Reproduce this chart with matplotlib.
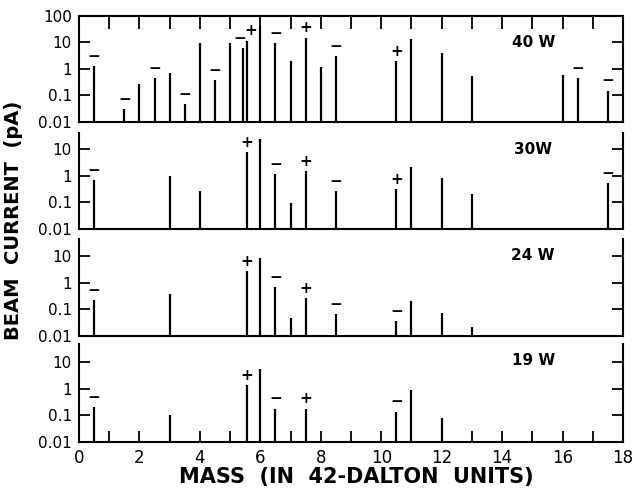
import matplotlib
matplotlib.use("Agg")
import matplotlib.pyplot as plt
import numpy as np

# mass positions (42-dalton units), beam currents (pA) and ion sign labels
mass_40w = [0.5, 1.5, 2.0, 2.5, 3.0, 3.5, 4.0, 4.5, 5.0, 5.43, 5.57, 6.0, 6.5,
            7.0, 7.5, 8.0, 8.5, 10.5, 11.0, 12.0, 13.0, 16.0, 16.5, 17.5]
curr_40w = [1.3, 0.031, 0.27, 0.46, 0.7, 0.048, 9.5, 0.38, 9.0, 6.2, 11.4, 42,
            9.5, 2.0, 15, 1.2, 3.1, 2.0, 13.5, 4.0, 0.55, 0.6, 0.46, 0.15]
sign_40w = ['-', '-', '', '-', '', '-', '', '-', '', '-', '+', '', '-',
            '', '+', '', '-', '+', '', '', '', '', '-', '-']

mass_30w = [0.5, 3.0, 4.0, 5.55, 6.0, 6.5, 7.0, 7.5, 8.5, 10.5, 11.0, 12.0, 13.0, 17.5]
curr_30w = [0.69, 0.96, 0.26, 7.6, 25, 1.15, 0.094, 1.5, 0.26, 0.32, 2.1, 0.81, 0.2, 0.53]
sign_30w = ['-', '', '', '+', '', '-', '', '+', '-', '+', '', '', '', '-']

mass_24w = [0.5, 3.0, 5.55, 6.0, 6.5, 7.0, 7.5, 8.5, 10.5, 11.0, 12.0, 13.0]
curr_24w = [0.22, 0.37, 2.7, 8.3, 0.69, 0.047, 0.26, 0.066, 0.036, 0.2, 0.073, 0.022]
sign_24w = ['-', '', '+', '', '-', '', '+', '-', '-', '', '', '']

mass_19w = [0.5, 3.0, 5.55, 6.0, 6.5, 7.5, 10.5, 11.0, 12.0]
curr_19w = [0.2, 0.1, 1.35, 5.5, 0.18, 0.18, 0.14, 0.87, 0.082]
sign_19w = ['-', '', '+', '', '-', '+', '-', '', '']

powers = ['40 W', '30W', '24 W', '19 W']
panels = [(mass_40w, curr_40w, sign_40w), (mass_30w, curr_30w, sign_30w),
          (mass_24w, curr_24w, sign_24w), (mass_19w, curr_19w, sign_19w)]

W, H = 633, 492
fig = plt.figure(figsize=(W / 100, H / 100), dpi=100)

x0, x1 = 79, 623
px_dec = 26.6
# (bottom pixel, top of y range) for each panel
layout = [(122, 100), (229, 40), (336, 45), (442, 50)]
label_y = [0.75, 0.83, 0.83, 0.83]

for i, ((m, c, s), (ybot, ytop)) in enumerate(zip(panels, layout)):
    hpx = px_dec * (np.log10(ytop) + 2)
    ax = fig.add_axes([x0 / W, 1 - ybot / H, (x1 - x0) / W, hpx / H])
    ax.set_yscale('log')
    ax.set_ylim(0.01, ytop)
    ax.set_xlim(0, 18)
    ax.vlines(m, 0.01, c, color='black', lw=1.6)
    for k, (xm, val, sg) in enumerate(zip(m, c, s)):
        if not sg:
            continue
        # nudge apart signs of closely spaced peaks
        dx = 0
        if k + 1 < len(m) and m[k + 1] - xm < 0.2:
            dx = -2.5
        elif k > 0 and xm - m[k - 1] < 0.2:
            dx = 2.5
        ax.annotate('\u2212' if sg == '-' else '+', (xm, val), xytext=(dx, 7),
                    textcoords='offset points', ha='center', va='center',
                    fontsize=11, fontweight='bold')
    ax.text(0.835, label_y[i], powers[i], transform=ax.transAxes,
            ha='center', va='center', fontsize=11, fontweight='bold')

    yt = [0.01, 0.1, 1, 10] + ([100] if i == 0 else [])
    ax.set_yticks(yt)
    ax.set_yticklabels(['0.01', '0.1', '1', '10', '100'][:len(yt)])
    ax.yaxis.set_minor_locator(matplotlib.ticker.NullLocator())
    ax.tick_params(axis='y', which='major', direction='in', length=8, width=1.3,
                   right=True, labelsize=11, pad=5)
    for sp in ax.spines.values():
        sp.set_linewidth(1.5)
    ax.set_xticks(np.arange(0, 19, 1))
    if i == 0:
        ax.tick_params(axis='x', direction='in', length=9, width=1.3, top=True,
                       bottom=False, labelbottom=False)
    elif i == 3:
        ax.spines['top'].set_visible(False)
        ax.tick_params(axis='x', direction='in', length=8, width=1.3, top=False,
                       labelsize=12, pad=5)
        ax.set_xticklabels([str(v) if v % 2 == 0 else '' for v in range(19)])
    else:
        ax.spines['top'].set_visible(False)
        ax.tick_params(axis='x', length=0, labelbottom=False)

fig.text(0.563, 0.030, 'MASS  (IN  42-DALTON  UNITS)', ha='center', va='center',
         fontsize=15, fontweight='bold')
fig.text(0.022, 0.553, 'BEAM  CURRENT  (pA)', ha='center', va='center',
         rotation=90, fontsize=14, fontweight='bold')

fig.savefig('out.png', dpi=100)
